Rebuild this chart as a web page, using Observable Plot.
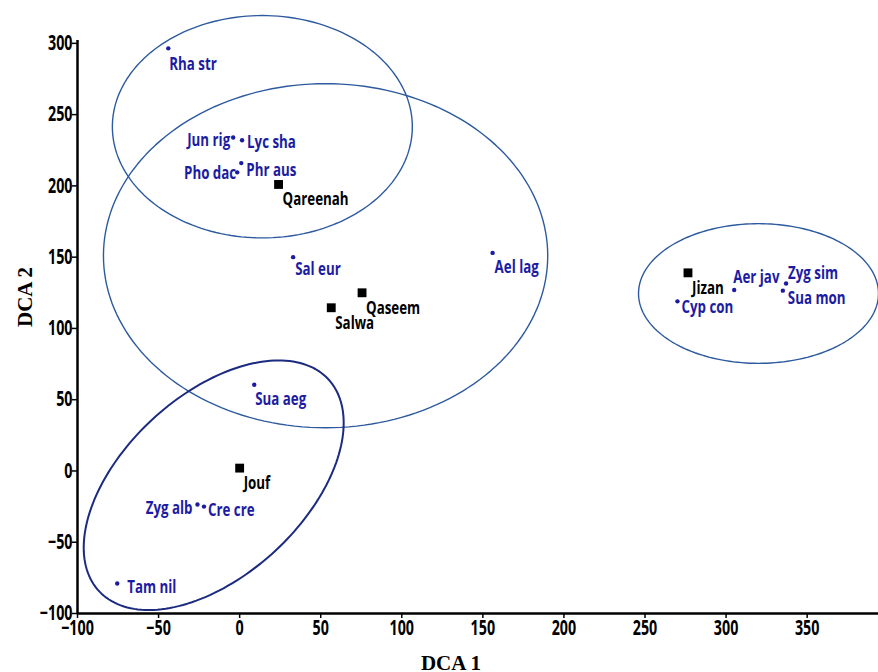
<!DOCTYPE html>
<html><head><meta charset="utf-8">
<script src="https://cdn.jsdelivr.net/npm/d3@7"></script>
<script src="https://cdn.jsdelivr.net/npm/@observablehq/plot@0.6"></script>
<style>
body{margin:0;background:#fff;}
#chart svg{display:block;}
</style></head><body><div id="chart"></div>
<script>
// ---- data ----
const speciesNames = ["Rha str","Jun rig","Lyc sha","Pho dac","Phr aus","Sal eur","Ael lag","Cyp con","Aer jav","Zyg sim","Sua mon","Sua aeg","Zyg alb","Cre cre","Tam nil"];
const speciesDCA1 = [-44, -4, 1.5, -1.5, 1, 33, 156, 270, 305, 337, 335, 9, -26, -22, -75.5];
const speciesDCA2 = [296.5, 234, 232, 209.5, 216, 150, 153, 119, 127, 131.5, 126.5, 60.5, -23.5, -25, -79];
const siteNames = ["Qareenah","Qaseem","Salwa","Jizan","Jouf"];
const siteDCA1 = [24, 75.5, 56.5, 276.5, 0];
const siteDCA2 = [201, 125, 114.5, 139, 2];
const xTicks = [-100, -50, 0, 50, 100, 150, 200, 250, 300, 350];
const yTicks = [-100, -50, 0, 50, 100, 150, 200, 250, 300];
// grouping ellipses (centre, semi-axes, rotation in degrees), in DCA units
const ellipseCx = [14, 53, 320, -16];
const ellipseCy = [241.5, 151, 124.5, -10];
const ellipseA = [92.5, 137, 74, 103];
const ellipseB = [78, 120.7, 49, 59];
const ellipseAngle = [0, 0, 0, 50];

// ---- build tables ----
const species = speciesNames.map((n, i) => ({name: n, x: speciesDCA1[i], y: speciesDCA2[i]}));
const sites = siteNames.map((n, i) => ({name: n, x: siteDCA1[i], y: siteDCA2[i]}));
function ellipsePoints(i) {
  const pts = [], th = ellipseAngle[i] * Math.PI / 180, n = 180;
  for (let k = 0; k <= n; k++) {
    const t = 2 * Math.PI * k / n;
    const u = ellipseA[i] * Math.cos(t), v = ellipseB[i] * Math.sin(t);
    pts.push({g: i, x: ellipseCx[i] + u * Math.cos(th) - v * Math.sin(th), y: ellipseCy[i] + u * Math.sin(th) + v * Math.cos(th)});
  }
  return pts;
}
const ellThin = [0, 1, 2].flatMap(ellipsePoints);
const ellThick = ellipsePoints(3);

// label placement (layout only)
const place = {
  "Rha str": [1, 16, "start"], "Jun rig": [-3, 3, "end"], "Lyc sha": [5, 2, "start"],
  "Pho dac": [-1, 1, "end"], "Phr aus": [5, 7, "start"], "Sal eur": [2, 12, "start"],
  "Ael lag": [2, 14, "start"], "Cyp con": [4, 6, "start"], "Aer jav": [-1, -13, "start"],
  "Zyg sim": [2, -10, "start"], "Sua mon": [5, 8, "start"], "Sua aeg": [1, 15, "start"],
  "Zyg alb": [-5, 4, "end"], "Cre cre": [4, 4, "start"], "Tam nil": [10, 4, "start"]
};
const sansFont = "'Open Sans',Roboto,sans-serif";
const serifFont = "'Liberation Serif','Times New Roman',serif";
const blue = "#1c1ca2";
const fmt = d => d < 0 ? "\u2212" + Math.abs(d) : String(d);

const labelMarks = speciesNames.map(n => Plot.text(species.filter(d => d.name === n), {
  x: "x", y: "y", text: "name", dx: place[n][0], dy: place[n][1], textAnchor: place[n][2],
  fill: blue, fontFamily: sansFont, fontSize: 18, fontWeight: "bold", className: "cond-label"
}));

const chart = Plot.plot({
  width: 878, height: 672,
  marginLeft: 77, marginRight: 0, marginTop: 40, marginBottom: 59,
  style: {fontFamily: sansFont, background: "#fff", overflow: "visible"},
  x: {domain: [-100, 394]},
  y: {domain: [-100, 302]},
  marks: [
    Plot.line(ellThin, {x: "x", y: "y", z: "g", stroke: "#2d5a9e", strokeWidth: 1.4}),
    Plot.line(ellThick, {x: "x", y: "y", stroke: "#1b2b80", strokeWidth: 2}),
    Plot.axisX(xTicks, {tickSize: 5, tickPadding: 2, tickFormat: fmt, fontSize: 21, fontWeight: "bold", fontFamily: sansFont, strokeWidth: 1.5, label: null, className: "cond-tick"}),
    Plot.axisY(yTicks, {tickSize: 5, tickPadding: 0, tickFormat: fmt, fontSize: 21, fontWeight: "bold", fontFamily: sansFont, strokeWidth: 1.5, label: null, className: "cond-tick"}),
    Plot.ruleX([-100], {stroke: "black", strokeWidth: 2.5}),
    Plot.ruleY([-100], {stroke: "black", strokeWidth: 2.5}),
    Plot.dot(species, {x: "x", y: "y", r: 2.2, fill: blue}),
    Plot.dot(sites, {x: "x", y: "y", symbol: "square", r: 5, fill: "black"}),
    ...labelMarks,
    Plot.text(sites, {x: "x", y: "y", text: "name", dx: 4, dy: 15, textAnchor: "start", fill: "black", fontFamily: sansFont, fontSize: 18, fontWeight: "bold", className: "cond-label"}),
    Plot.text(["DCA 1"], {frameAnchor: "bottom", dx: -27, dy: 56, lineAnchor: "bottom", fontFamily: serifFont, fontWeight: "bold", fontSize: 21, fill: "black"}),
    Plot.text(["DCA 2"], {frameAnchor: "left", dx: -52, rotate: -90, fontFamily: serifFont, fontWeight: "bold", fontSize: 21, fill: "black"})
  ]
});
document.getElementById("chart").appendChild(chart);

// horizontally condense the sans texts to mimic the reference's condensed face
function condense(selector, factor) {
  chart.querySelectorAll(selector + " text").forEach(t => {
    const len = t.getComputedTextLength();
    t.setAttribute("textLength", (len * factor).toFixed(1));
    t.setAttribute("lengthAdjust", "spacingAndGlyphs");
  });
}
condense(".cond-label", 0.74);
condense(".cond-tick", 0.68);
</script>
</body></html>
